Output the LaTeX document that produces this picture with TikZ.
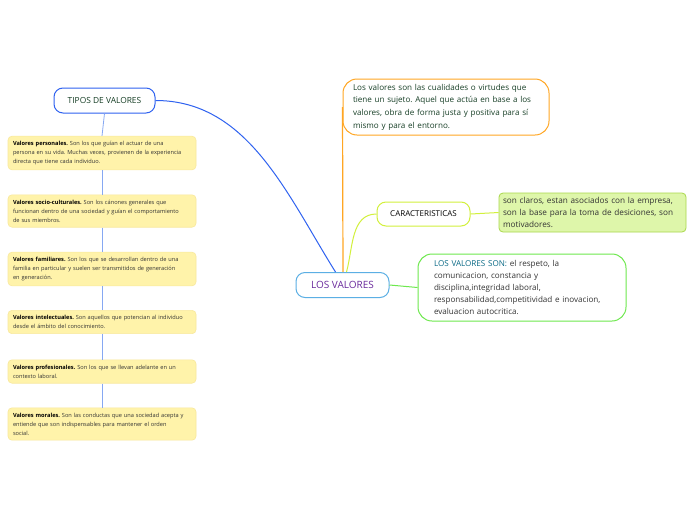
\documentclass[tikz,border=0pt]{standalone}
\usepackage{fontspec}
\setmainfont{Open Sans}
\usepackage{xcolor}
\usetikzlibrary{calc, positioning}
\frenchspacing

\definecolor{azul}{HTML}{2F62F0}
\definecolor{azulclaro}{HTML}{86A8F2}
\definecolor{celeste}{HTML}{5BAFE4}
\definecolor{naranja}{HTML}{FFA623}
\definecolor{lima}{HTML}{D2F03C}
\definecolor{verde}{HTML}{6EE84E}
\definecolor{verdefondo}{HTML}{DEF6AA}
\definecolor{verdeborde}{HTML}{AAD84C}
\definecolor{amarillo}{HTML}{FFF3AA}
\definecolor{amarilloborde}{HTML}{F8E89C}
\definecolor{morado}{HTML}{6A2A9C}
\definecolor{textoverde}{HTML}{173F26}
\definecolor{gris}{HTML}{333333}
\definecolor{azulverde}{HTML}{0A6A86}

\tikzset{
    tema/.style={draw, line width=1pt, fill=white, rounded corners=9pt,
        minimum height=25pt, align=center, inner sep=1pt},
    tarjeta/.style={draw=amarilloborde, fill=amarillo, line width=0.6pt,
        rounded corners=4pt, text width=178pt, inner xsep=5pt, inner ysep=5pt,
        align=left, text=gris, font=\fontsize{5.65}{9}\selectfont},
    nube/.style={draw, line width=1pt, fill=white, rounded corners=14pt,
        align=left}
}

\begin{document}
\begin{tikzpicture}[x=1pt, y=-1pt]
    \useasboundingbox[fill=white] (0,0) rectangle (696,520);

    % Nodo central
    \node[tema, draw=celeste, minimum width=93pt, text=morado,
        font=\fontsize{10}{12}\selectfont] (lv) at (342.5,285) {LOS VALORES};

    % Rama izquierda
    \node[tema, draw=azul, minimum width=101pt, text=textoverde,
        font=\fontsize{8.4}{10}\selectfont] (tipos) at (104.5,100.5) {TIPOS DE VALORES};

    \node[tarjeta] (t1) at (102,153) {\textbf{\color{black}Valores personales.} Son los que guían el actuar de una\\persona en su vida. Muchas veces, provienen de la experiencia\\directa que tiene cada individuo.};
    \node[tarjeta] (t2) at (102,211) {\textbf{\color{black}Valores socio-culturales.} Son los cánones generales que\\funcionan dentro de una sociedad y guían el comportamiento\\de sus miembros.};
    \node[tarjeta] (t3) at (102,269) {\textbf{\color{black}Valores familiares.} Son los que se desarrollan dentro de una\\familia en particular y suelen ser transmitidos de generación\\en generación.};
    \node[tarjeta] (t4) at (102,322) {\textbf{\color{black}Valores intelectuales.} Son aquellos que potencian al individuo\\desde el ámbito del conocimiento.};
    \node[tarjeta] (t5) at (102,371.5) {\textbf{\color{black}Valores profesionales.} Son los que se llevan adelante en un\\contexto laboral.};
    \node[tarjeta] (t6) at (102,424) {\textbf{\color{black}Valores morales.} Son las conductas que una sociedad acepta y\\entiende que son indispensables para mantener el orden\\social.};

    % Definicion arriba
    \node[nube, draw=naranja, text width=186pt, inner xsep=10pt, minimum height=56pt,
        text=textoverde, font=\fontsize{8.1}{12.7}\selectfont]
        (def) at (446,107) {Los valores son las cualidades o virtudes que\\tiene un sujeto. Aquel que actúa en base a los\\valores, obra de forma justa y positiva para sí\\mismo y para el entorno.};

    % Caracteristicas
    \node[tema, draw=lima, minimum width=93pt, minimum height=24pt,
        font=\fontsize{8}{10}\selectfont] (car) at (423.5,214) {CARACTERISTICAS};
    \node[draw=verdeborde, fill=verdefondo, line width=0.8pt, rounded corners=4pt,
        text width=179pt, inner xsep=4pt, minimum height=39pt, align=left, text=gris,
        font=\fontsize{8.2}{12.3}\selectfont]
        (carx) at (592.5,212.5) {son claros, estan asociados con la empresa,\\son la base para la toma de desiciones, son\\motivadores.};

    % Lista de valores
    \node[nube, draw=verde, text width=176pt, inner xsep=16pt, minimum height=67pt,
        text=gris, font=\fontsize{8.1}{12.2}\selectfont]
        (son) at (522,287.5) {{\color{azulverde}LOS VALORES SON:} el respeto, la\\comunicacion, constancia y\\disciplina,integridad laboral,\\responsabilidad,competitividad e inovacion,\\evaluacion autocritica.};

    % Conectores
    \draw[azul, line width=1pt] ([xshift=-7pt]lv.north) to[out=122, in=0, looseness=0.95] (tipos.east);
    \draw[naranja, line width=1.2pt] ([xshift=0.5pt]lv.north) -- (def.west);
    \draw[lima, line width=1pt] ([xshift=4pt]lv.north) to[out=75, in=180] (car.west);
    \draw[lima, line width=1pt] (car.east) -- (carx.west);
    \draw[verde, line width=1pt] (lv.east) -- (son.west);
    \draw[azulclaro, line width=0.8pt] (tipos.south) -- (t1.north);
    \foreach \a/\b in {t1/t2, t2/t3, t3/t4, t4/t5, t5/t6} {
        \draw[azulclaro, line width=0.8pt] (\a.south) -- (\b.north);
    }
\end{tikzpicture}
\end{document}
